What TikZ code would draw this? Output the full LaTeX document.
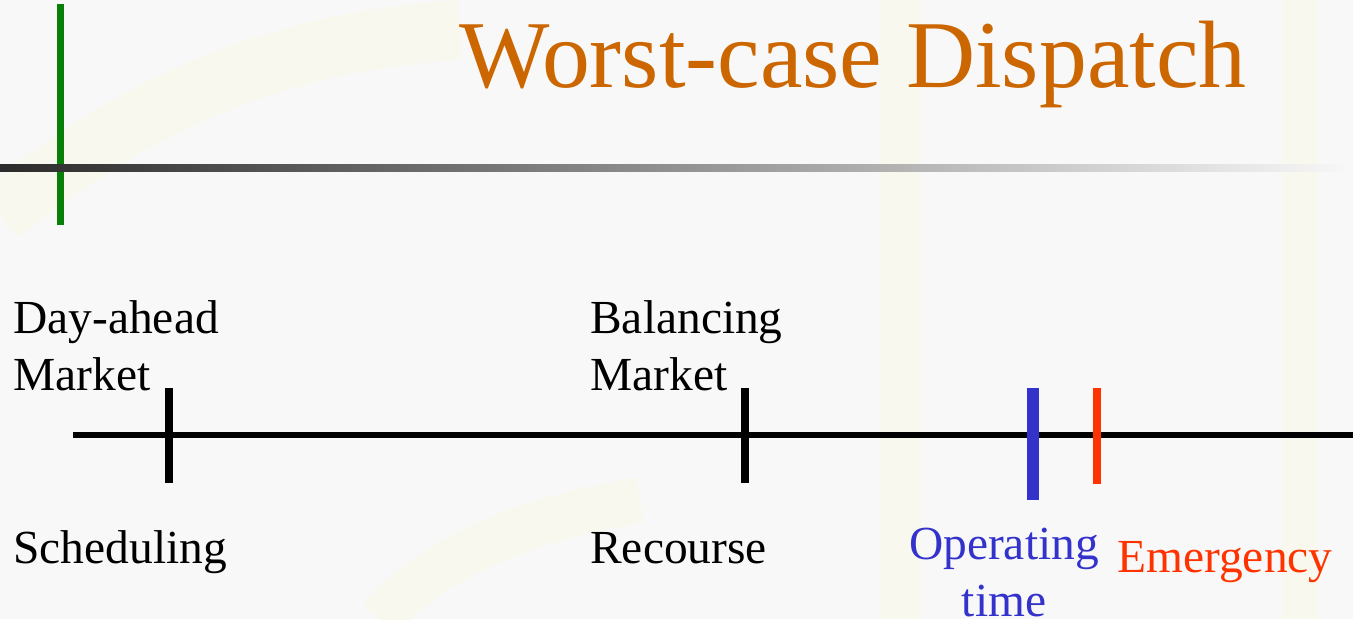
\documentclass[tikz,border=0pt]{standalone}
\usepackage{fontspec}
\setmainfont{Liberation Serif}

\definecolor{slidebg}{RGB}{248,248,248}
\definecolor{bgband}{RGB}{248,248,238}
\definecolor{titleorange}{RGB}{204,102,0}
\definecolor{barsgreen}{RGB}{8,128,8}
\definecolor{opblue}{RGB}{51,51,204}
\definecolor{emred}{RGB}{255,51,0}

\begin{document}
\begin{tikzpicture}[x=0.02cm,y=-0.02cm,
    lbl/.style={anchor=base west,inner sep=0pt,align=left,font=\fontsize{27}{32}\selectfont},
    tickmark/.style={line width=4pt}]

        \useasboundingbox (0,0) rectangle (1353,619);
        \clip (0,0) rectangle (1353,619);

        % Slide background with its faint yellow bands
        \fill[slidebg] (0,0) rectangle (1353,619);
        \draw[bgband,line width=34pt] (0,215) .. controls (150,90) and (300,40) .. (460,30);
        \draw[bgband,line width=24pt] (900,0) -- (900,619);
        \draw[bgband,line width=20pt] (1300,0) -- (1300,619);
        \draw[bgband,line width=26pt] (380,619) .. controls (430,560) and (520,520) .. (640,500);

        % Title
        \node[anchor=base west,inner sep=0pt,text=titleorange,font=\fontsize{54.5}{60}\selectfont]
            (title) at (459,87) {Worst-case Dispatch};

        % Green bar, then the shaded rule under the title
        \coordinate (gtop) at (60.5,4);
        \coordinate (gbot) at (60.5,225);
        \draw[barsgreen,line width=4pt] (gtop) -- (gbot);
        \shade[left color=black!83,middle color=black!32,right color=slidebg] (0,164) rectangle (1353,171);

        % Time line
        \coordinate (tstart) at (73,435);
        \coordinate (tend) at (1353,435);
        \draw[line width=3.4pt] (tstart) -- (tend);

        % Ticks on the time line
        \coordinate (datop) at (169,388);  \coordinate (dabot) at (169,483);
        \coordinate (bmtop) at (745,388);  \coordinate (bmbot) at (745,483);
        \coordinate (optop) at (1033,388); \coordinate (opbot) at (1033,500);
        \coordinate (emtop) at (1097,388); \coordinate (embot) at (1097,484);
        \draw[tickmark] (datop) -- (dabot);
        \draw[tickmark] (bmtop) -- (bmbot);
        \draw[tickmark,opblue,line width=6.8pt] (optop) -- (opbot);
        \draw[tickmark,emred,line width=4.5pt] (emtop) -- (embot);

        % Labels above and below the ticks (base is the last line)
        \node[lbl] (dam) at (13,390) {Day-ahead\\Market};
        \node[lbl] (bal) at (590,390) {Balancing\\Market};
        \node[lbl] (sched) at (13,563) {Scheduling};
        \node[lbl] (rec) at (590,563) {Recourse};
        \node[lbl,anchor=base,align=center,text=opblue] (op) at (1004,616) {Operating\\time};
        \node[lbl,text=emred] (em) at (1117,572) {Emergency};

    \end{tikzpicture}
\end{document}
